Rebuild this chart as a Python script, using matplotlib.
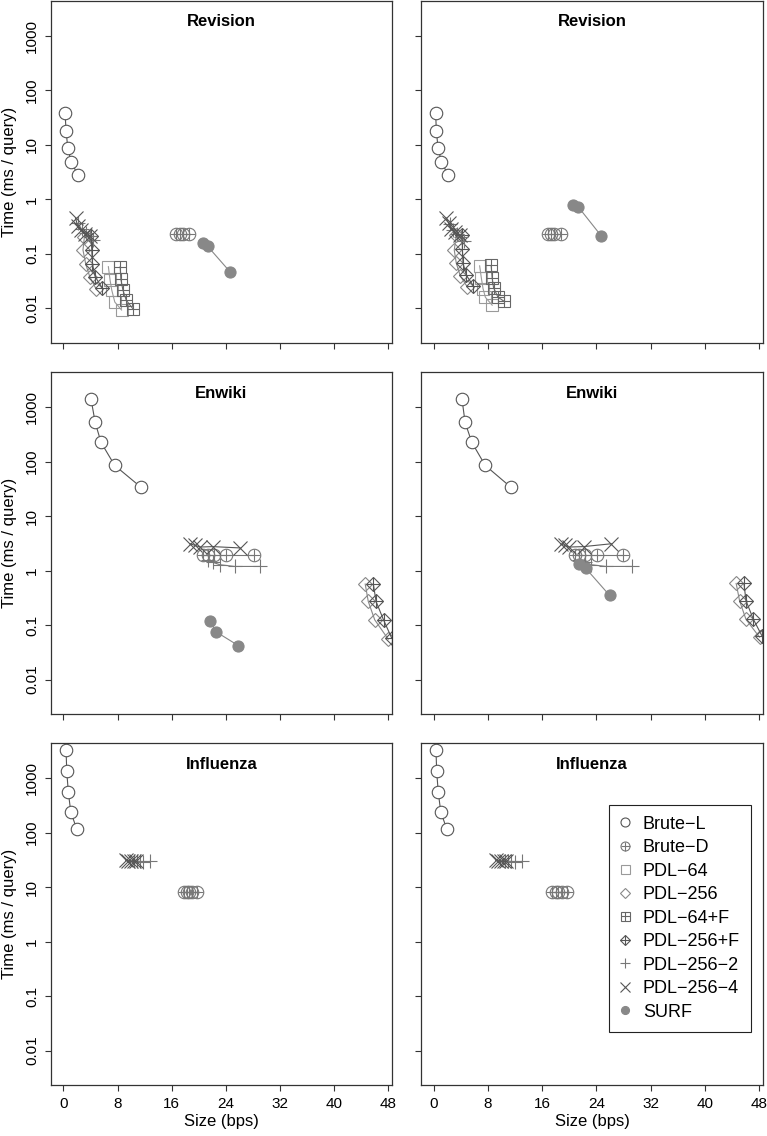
import matplotlib
matplotlib.use("Agg")
import matplotlib.pyplot as plt
from matplotlib.lines import Line2D
from matplotlib.legend_handler import HandlerTuple

plt.rcParams['font.family'] = ['Liberation Sans', 'DejaVu Sans']

# ---- data (size in bps, time in ms/query) ----
methods = ["Brute-L", "Brute-D", "PDL-64", "PDL-256", "PDL-64+F",
           "PDL-256+F", "PDL-256-2", "PDL-256-4", "SURF"]
row_titles = ["Revision", "Enwiki", "Influenza"]
x_ticks = [0, 8, 16, 24, 32, 40, 48]
y_ticks = [0.01, 0.1, 1, 10, 100, 1000]
y_tick_labels = ["0.01", "0.1", "1", "10", "100", "1000"]

revision_left = {
    "Brute-L": ([0.25, 0.40, 0.65, 1.14, 2.14], [38.6, 18.1, 8.8, 4.9, 2.8]),
    "Brute-D": ([16.7, 17.2, 17.7, 18.6], [0.23, 0.23, 0.23, 0.23]),
    "PDL-64": ([6.65, 6.9, 7.15, 7.6, 8.6], [0.058, 0.033, 0.0216, 0.013, 0.0093]),
    "PDL-256": ([3.1, 2.9, 3.3, 3.9, 4.8], [0.2, 0.117, 0.065, 0.038, 0.023]),
    "PDL-64+F": ([8.4, 8.5, 8.8, 9.3, 10.25], [0.058, 0.034, 0.0216, 0.014, 0.0099]),
    "PDL-256+F": ([4.1, 4.2, 4.3, 4.7, 5.7], [0.21, 0.117, 0.065, 0.038, 0.024]),
    "PDL-256-2": ([2.2, 2.7, 3.3, 4.0, 4.4], [0.36, 0.28, 0.24, 0.21, 0.18]),
    "PDL-256-4": ([1.8, 2.1, 2.6, 3.2, 3.9], [0.45, 0.33, 0.27, 0.23, 0.21]),
    "SURF": ([20.6, 21.3, 24.6], [0.155, 0.138, 0.047]),
}
revision_right = {
    "Brute-L": ([0.25, 0.35, 0.6, 1.1, 2.07], [38.6, 18.1, 8.8, 4.9, 2.8]),
    "Brute-D": ([16.8, 17.3, 17.8, 18.7], [0.23, 0.23, 0.23, 0.23]),
    "PDL-64": ([6.75, 7.0, 7.25, 7.6, 8.6], [0.06, 0.036, 0.023, 0.0159, 0.0114]),
    "PDL-256": ([3.3, 3.0, 3.3, 3.9, 4.9], [0.22, 0.117, 0.067, 0.039, 0.025]),
    "PDL-64+F": ([8.45, 8.6, 8.8, 9.45, 10.3], [0.061, 0.036, 0.024, 0.016, 0.0136]),
    "PDL-256+F": ([4.2, 4.2, 4.3, 4.8, 5.8], [0.22, 0.12, 0.067, 0.04, 0.026]),
    "PDL-256-2": ([2.3, 2.8, 3.4, 4.0, 4.5], [0.35, 0.27, 0.23, 0.2, 0.17]),
    "PDL-256-4": ([1.8, 2.2, 2.55, 3.05, 3.8], [0.45, 0.36, 0.29, 0.25, 0.22]),
    "SURF": ([20.6, 21.3, 24.7], [0.78, 0.73, 0.214]),
}
enwiki_left = {
    "Brute-L": ([4.09, 4.7, 5.57, 7.58, 11.5], [1400, 522, 224, 85, 33.5]),
    "Brute-D": ([20.7, 21.4, 22.2, 24.1, 28.1], [1.89, 1.89, 1.89, 1.89, 1.89]),
    "PDL-256": ([44.6, 45.05, 46.0, 48.0], [0.565, 0.271, 0.125, 0.055]),
    "PDL-256+F": ([45.8, 46.2, 47.3, 48.5], [0.565, 0.271, 0.125, 0.058]),
    "PDL-256-2": ([21.4, 22.15, 23.1, 25.3, 29.1], [1.58, 1.41, 1.28, 1.19, 1.19]),
    "PDL-256-4": ([18.7, 19.45, 20.2, 22.07, 26.1], [3.1, 2.9, 2.7, 2.75, 2.6]),
    "SURF": ([21.7, 22.5, 25.85], [0.121, 0.076, 0.042]),
}
enwiki_right = {
    "Brute-L": ([4.14, 4.6, 5.6, 7.57, 11.4], [1400, 522, 224, 85, 33.5]),
    "Brute-D": ([20.8, 21.5, 22.3, 24.1, 28.0], [1.89, 1.89, 1.89, 1.89, 1.89]),
    "PDL-256": ([44.65, 45.15, 46.1, 48.1], [0.58, 0.28, 0.127, 0.06]),
    "PDL-256+F": ([45.8, 46.1, 47.2, 48.5], [0.58, 0.28, 0.127, 0.062]),
    "PDL-256-2": ([21.5, 22.3, 23.2, 25.4, 29.2], [1.58, 1.41, 1.28, 1.19, 1.19]),
    "PDL-256-4": ([18.7, 19.3, 20.0, 22.1, 26.2], [3.1, 2.9, 2.7, 2.75, 3.1]),
    "SURF": ([21.5, 22.4, 25.95], [1.33, 1.11, 0.35]),
}
influenza_left = {
    "Brute-L": ([0.4, 0.5, 0.74, 1.09, 1.98], [3300, 1320, 543, 241, 115]),
    "Brute-D": ([17.8, 18.2, 18.6, 19.0, 19.7], [8.1, 8.1, 8.1, 8.1, 8.1]),
    "PDL-256-2": ([10.5, 10.9, 11.3, 11.8, 12.8], [30, 29.5, 29.5, 29, 29.5]),
    "PDL-256-4": ([9.2, 9.6, 10.0, 10.4, 10.8], [31, 30.5, 30, 30, 29.5]),
}
influenza_right = {
    "Brute-L": ([0.3, 0.4, 0.64, 1.0, 1.9], [3300, 1320, 543, 241, 115]),
    "Brute-D": ([17.5, 18.0, 18.4, 18.9, 19.6], [8.1, 8.1, 8.1, 8.1, 8.1]),
    "PDL-256-2": ([10.5, 10.9, 11.4, 12.0, 13.0], [30, 29.5, 29.5, 29, 29.5]),
    "PDL-256-4": ([9.1, 9.5, 9.9, 10.3, 10.7], [31, 30.5, 30, 30, 29.5]),
}

# marker layers for each method: (marker, size, face)
styles = {
    "Brute-L": ("#555555", [("o", 9, "white")]),
    "Brute-D": ("#777777", [("o", 9, "none"), ("+", 9, "none")]),
    "PDL-64": ("#9a9a9a", [("s", 9, "none")]),
    "PDL-256": ("#888888", [("D", 7.2, "none")]),
    "PDL-64+F": ("#666666", [("s", 9, "none"), ("+", 9, "none")]),
    "PDL-256+F": ("#555555", [("D", 7.2, "none"), ("+", 10.2, "none")]),
    "PDL-256-2": ("#777777", [("+", 10.5, "none")]),
    "PDL-256-4": ("#555555", [("x", 9.5, "none")]),
    "SURF": ("#888888", [("o", 8, "#888888")]),
}

W, H = 767, 1136
fig = plt.figure(figsize=(W / 100, H / 100), dpi=100)

col_x = [50.7, 421.3]
row_top = [1, 372.3, 743.3]
pw, ph = 341.6, 342

panels = [[revision_left, revision_right],
          [enwiki_left, enwiki_right],
          [influenza_left, influenza_right]]

ylim = (10 ** -2.637, 10 ** 3.637)
xlim = (-1.87, 48.6)

for r in range(3):
    for c in range(2):
        ax = fig.add_axes([col_x[c] / W, 1 - (row_top[r] + ph) / H, pw / W, ph / H])
        data = panels[r][c]
        for m in methods:
            if m not in data:
                continue
            xs, ys = data[m]
            color, layers = styles[m]
            mk, ms, fc = layers[0]
            ax.plot(xs, ys, color=color, lw=0.8, marker=mk, ms=ms,
                    mfc=fc, mec=color, mew=0.8)
            for mk, ms, fc in layers[1:]:
                ax.plot(xs, ys, ls="none", marker=mk, ms=ms, mfc=fc,
                        mec=color, mew=0.8)
        ax.set_yscale("log")
        ax.set_xlim(xlim)
        ax.set_ylim(ylim)
        ax.set_yticks(y_ticks)
        ax.set_yticks([], minor=True)
        ax.set_xticks(x_ticks)
        ax.tick_params(direction="out", length=4.5, width=0.8, color="#333333",
                       labelsize=11, pad=4)
        for s in ax.spines.values():
            s.set_color("#333333")
            s.set_linewidth(0.9)
        if c == 0:
            ax.set_yticklabels(y_tick_labels, rotation=90, va="center")
            ax.set_ylabel("Time (ms / query)", fontsize=12)
            ax.yaxis.set_label_coords(-0.1, 0.5)
        else:
            ax.set_yticklabels([])
        if r == 2:
            ax.set_xticklabels([str(v) for v in x_ticks])
            ax.set_xlabel("Size (bps)", fontsize=12, labelpad=2)
        else:
            ax.set_xticklabels([])
        ax.text(0.5, 1 - 21 / ph, row_titles[r], transform=ax.transAxes,
                ha="center", va="center", fontsize=12, fontweight="bold")

        if r == 2 and c == 1:
            handles = []
            for m in methods:
                color, layers = styles[m]
                parts = tuple(Line2D([], [], ls="none", marker=mk, ms=ms * 0.72,
                                     mfc=fc, mec=color, mew=0.8, color=color)
                              for mk, ms, fc in layers)
                handles.append(parts)
            labels = [m.replace("-", "\u2212") for m in methods]
            leg = ax.legend(handles, labels, loc="upper right",
                            bbox_to_anchor=(0.965, 0.82),
                            handler_map={tuple: HandlerTuple(ndivide=1)},
                            fontsize=13, frameon=True, fancybox=False,
                            edgecolor="#222222", framealpha=1,
                            handlelength=0.6, handletextpad=0.7,
                            labelspacing=0.36, borderpad=0.6, borderaxespad=0)
            leg.get_frame().set_linewidth(0.8)

fig.savefig("out.png", dpi=100)
